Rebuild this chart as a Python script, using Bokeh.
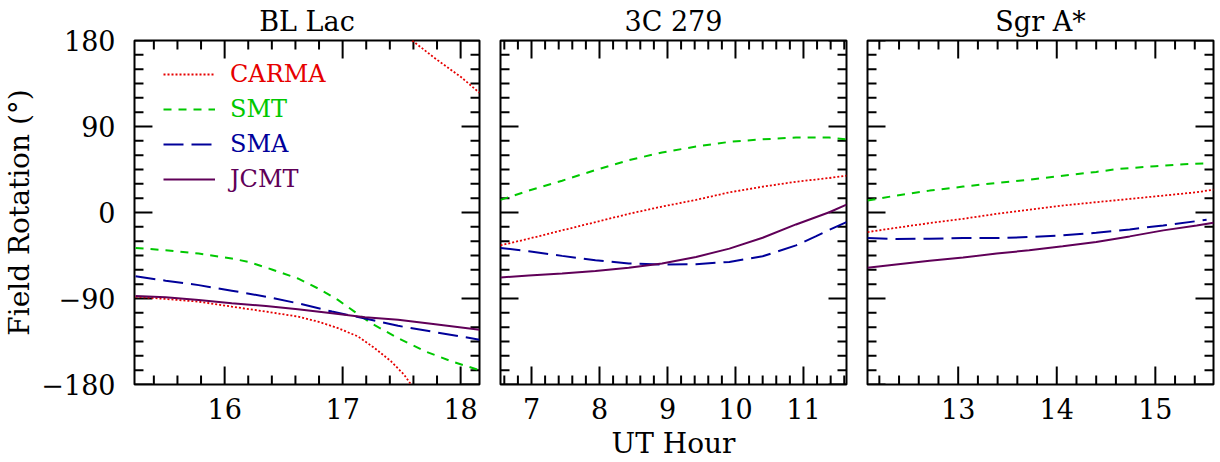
import numpy as np
from bokeh.plotting import figure
from bokeh.layouts import row
from bokeh.models import LinearAxis, FixedTicker, Range1d, Legend, LegendItem, Title
from bokeh.embed import file_html
from bokeh.resources import INLINE

# ---------------- data ----------------
panel_titles = ["BL Lac", "3C 279", "Sgr A*"]
x_ranges = [(15.236, 18.16), (6.544, 11.633), (12.08, 15.59)]
x_major = [[16, 17, 18], [7, 8, 9, 10, 11], [13, 14, 15]]
y_major = [-180, -90, 0, 90, 180]
y_tick_labels = {-180: "\u2212180", -90: "\u221290", 0: "0", 90: "90", 180: "180"}
series_names = ["CARMA", "SMT", "SMA", "JCMT"]

# BL Lac (CARMA wraps from -180 to +180)
bl_carma_t = [15.245, 15.50, 15.78, 16.06, 16.35, 16.62, 16.79, 16.96, 17.13, 17.27, 17.41, 17.52, 17.58,
              np.nan, 17.59, 17.78, 18.006, 18.16]
bl_carma_v = [-88.1, -90.5, -93.3, -98.5, -103.7, -108.9, -114.1, -121, -129.7, -141.8, -155.7, -169.6, -180,
              np.nan, 180, 161.6, 141.5, 125.2]
bl_smt_t = [15.245, 15.50, 15.78, 16.06, 16.20, 16.40, 16.62, 16.79, 16.96, 17.10, 17.24, 17.47, 17.70, 17.92, 18.16]
bl_smt_v = [-37.1, -39.5, -43, -48.2, -51.6, -59.6, -69, -79.4, -91.5, -103.7, -115.8, -131.4, -145.3, -155.7, -165]
bl_sma_t = [15.245, 15.50, 15.78, 16.06, 16.35, 16.62, 16.91, 17.19, 17.47, 17.75, 18.16]
bl_sma_v = [-66.6, -71.4, -76, -81.8, -88.1, -95, -103.7, -111, -118.6, -124.5, -133.1]
bl_jcmt_t = [15.245, 15.50, 15.78, 16.06, 16.35, 16.62, 16.91, 17.19, 17.47, 17.75, 18.16]
bl_jcmt_v = [-87.4, -88.8, -91.5, -95, -97.8, -101.2, -105.4, -109.6, -112.3, -116.5, -122.7]

# 3C 279
q_smt_t = [6.544, 6.96, 7.45, 7.94, 8.43, 8.92, 9.42, 9.91, 10.40, 10.89, 11.38, 11.633]
q_smt_v = [13.2, 22.9, 33.3, 44.4, 54.8, 62.8, 69, 73.9, 76.6, 78.4, 78.4, 76.6]
q_carma_t = [6.544, 6.96, 7.45, 7.94, 8.43, 8.92, 9.42, 9.91, 10.40, 10.89, 11.38, 11.633]
q_carma_v = [-34.4, -27.4, -18.7, -10.1, -1.4, 6.2, 13.2, 21.1, 27, 32.2, 36.1, 38.5]
q_sma_t = [6.544, 6.96, 7.45, 7.94, 8.43, 8.92, 9.42, 9.91, 10.40, 10.89, 11.18, 11.38, 11.633]
q_sma_v = [-37.1, -40.6, -45.4, -50, -53.4, -54.5, -54.1, -51.7, -45.8, -34.4, -25, -18.1, -10.1]
q_jcmt_t = [6.544, 6.96, 7.45, 7.94, 8.43, 8.92, 9.42, 9.91, 10.40, 10.89, 11.38, 11.633]
q_jcmt_v = [-68, -65.9, -63.8, -61.1, -57.9, -53.4, -46.5, -37.8, -26.4, -12.5, 0.3, 8.3]

# Sgr A*
s_smt_t = [12.08, 12.37, 12.71, 13.05, 13.39, 13.72, 14.06, 14.40, 14.62, 15.00, 15.29, 15.50]
s_smt_v = [12.5, 17.7, 22.9, 27.1, 30.9, 34.3, 38.5, 42.5, 45.5, 48.5, 50.5, 51.3]
s_carma_t = [12.08, 12.37, 12.71, 13.05, 13.39, 13.72, 14.06, 14.40, 14.74, 15.08, 15.42, 15.59]
s_carma_v = [-20.5, -16, -11.1, -6.6, -1.4, 2.8, 7.3, 10.8, 14.2, 17.7, 21.2, 23.9]
s_sma_t = [12.08, 12.37, 12.71, 13.05, 13.39, 13.72, 14.06, 14.40, 14.74, 15.08, 15.42, 15.52]
s_sma_v = [-26.7, -27.7, -27.4, -26.7, -26.7, -25.7, -23.9, -21.2, -17.7, -13.5, -9, -7.6]
s_jcmt_t = [12.08, 12.37, 12.71, 13.05, 13.39, 13.72, 14.06, 14.40, 14.74, 15.08, 15.42, 15.59]
s_jcmt_v = [-57.9, -54.4, -50.6, -47.2, -43, -39.5, -35.4, -30.9, -25, -18.7, -13.5, -10.7]

panels_data = [
    {"CARMA": (bl_carma_t, bl_carma_v), "SMT": (bl_smt_t, bl_smt_v),
     "SMA": (bl_sma_t, bl_sma_v), "JCMT": (bl_jcmt_t, bl_jcmt_v)},
    {"CARMA": (q_carma_t, q_carma_v), "SMT": (q_smt_t, q_smt_v),
     "SMA": (q_sma_t, q_sma_v), "JCMT": (q_jcmt_t, q_jcmt_v)},
    {"CARMA": (s_carma_t, s_carma_v), "SMT": (s_smt_t, s_smt_v),
     "SMA": (s_sma_t, s_sma_v), "JCMT": (s_jcmt_t, s_jcmt_v)},
]

# ---------------- styles ----------------
FONT = "DejaVu Serif"
colors = {"CARMA": "#e60000", "SMT": "#00c800", "SMA": "#00009a", "JCMT": "#600058"}
dashes = {"CARMA": "2 2", "SMT": "8 7", "SMA": "20 8", "JCMT": "solid"}
widths = {"CARMA": 1.8, "SMT": 2, "SMA": 2, "JCMT": 2}

FRAME = 346
fig_w = [490, 366, 364]
borders = [(133, 11), (10, 10), (11, 7)]
MAJ_LEN, MIN_LEN = 18, 9


def label_axis(ax, font_size="27px", standoff=16):
    ax.axis_line_color = None
    ax.major_tick_in = 0
    ax.major_tick_out = 0
    ax.minor_tick_in = 0
    ax.minor_tick_out = 0
    ax.major_tick_line_color = None
    ax.minor_tick_line_color = None
    ax.major_label_text_font = FONT
    ax.major_label_text_font_size = font_size
    ax.major_label_text_color = "black"
    ax.major_label_standoff = standoff


figs = []
for i in range(3):
    xr = x_ranges[i]
    left, right = borders[i]
    p = figure(width=fig_w[i], height=462, output_backend="svg", toolbar_location=None,
               x_range=Range1d(*xr), y_range=Range1d(-180, 180),
               x_axis_location=None, y_axis_location=None,
               min_border_left=left, min_border_right=right,
               min_border_top=39, min_border_bottom=77)
    p.grid.visible = False
    p.outline_line_color = "black"
    p.outline_line_width = 2
    p.background_fill_color = "white"
    p.border_fill_color = "white"

    # tick marks on all four sides, inward
    minor_x = [round(a, 4) for a in np.arange(np.ceil(xr[0] * 5) / 5, xr[1], 0.2)]
    minor_x = [m for m in minor_x if all(abs(m - M) > 1e-6 for M in x_major[i])]
    minor_y = [m for m in range(-180, 181, 15) if m not in y_major]
    dx = (xr[1] - xr[0]) / FRAME
    dy = 360.0 / FRAME
    for ticks, L in ((x_major[i], MAJ_LEN), (minor_x, MIN_LEN)):
        t = np.array(ticks, dtype=float)
        p.segment(t, -180, t, -180 + L * dy, line_color="black", line_width=2)
        p.segment(t, 180, t, 180 - L * dy, line_color="black", line_width=2)
    for ticks, L in ((y_major, MAJ_LEN), (minor_y, MIN_LEN)):
        v = np.array(ticks, dtype=float)
        p.segment(xr[0], v, xr[0] + L * dx, v, line_color="black", line_width=2)
        p.segment(xr[1], v, xr[1] - L * dx, v, line_color="black", line_width=2)

    bx = LinearAxis(ticker=FixedTicker(ticks=x_major[i], minor_ticks=[]))
    label_axis(bx, standoff=13)
    if i == 1:
        bx.axis_label = "UT Hour"
        bx.axis_label_text_font = FONT
        bx.axis_label_text_font_size = "28px"
        bx.axis_label_text_font_style = "normal"
        bx.axis_label_text_color = "black"
        bx.axis_label_standoff = 5
    p.add_layout(bx, "below")

    if i == 0:
        ly = LinearAxis(ticker=FixedTicker(ticks=y_major, minor_ticks=[]))
        label_axis(ly, standoff=19)
        ly.major_label_overrides = y_tick_labels
        ly.axis_label = "Field Rotation (\u00b0)"
        ly.axis_label_text_font = FONT
        ly.axis_label_text_font_size = "28px"
        ly.axis_label_text_font_style = "normal"
        ly.axis_label_text_color = "black"
        ly.axis_label_standoff = 2
        p.add_layout(ly, "left")

    p.title = Title(text=panel_titles[i], text_font=FONT, text_font_size="27px",
                    text_font_style="normal", text_color="black",
                    align="center", offset=0, standoff=7)

    renderers = {}
    for name in series_names:
        t, v = panels_data[i][name]
        renderers[name] = p.line(t, v, line_color=colors[name], line_dash=dashes[name],
                                 line_width=widths[name])

    if i == 0:
        ys = [296, 261, 226, 191]
        for name, yy in zip(series_names, ys):
            lg = Legend(items=[LegendItem(label=name, renderers=[renderers[name]])],
                        location=(29, yy), padding=0, margin=0, spacing=0,
                        glyph_width=52, glyph_height=26, label_height=26,
                        label_standoff=15, border_line_alpha=0,
                        background_fill_alpha=0,
                        label_text_font=FONT, label_text_font_size="24px",
                        label_text_color=colors[name])
            p.add_layout(lg, "center")
    figs.append(p)

layout = row(*figs, spacing=0)
open("out.html", "w").write(file_html(layout, INLINE))
